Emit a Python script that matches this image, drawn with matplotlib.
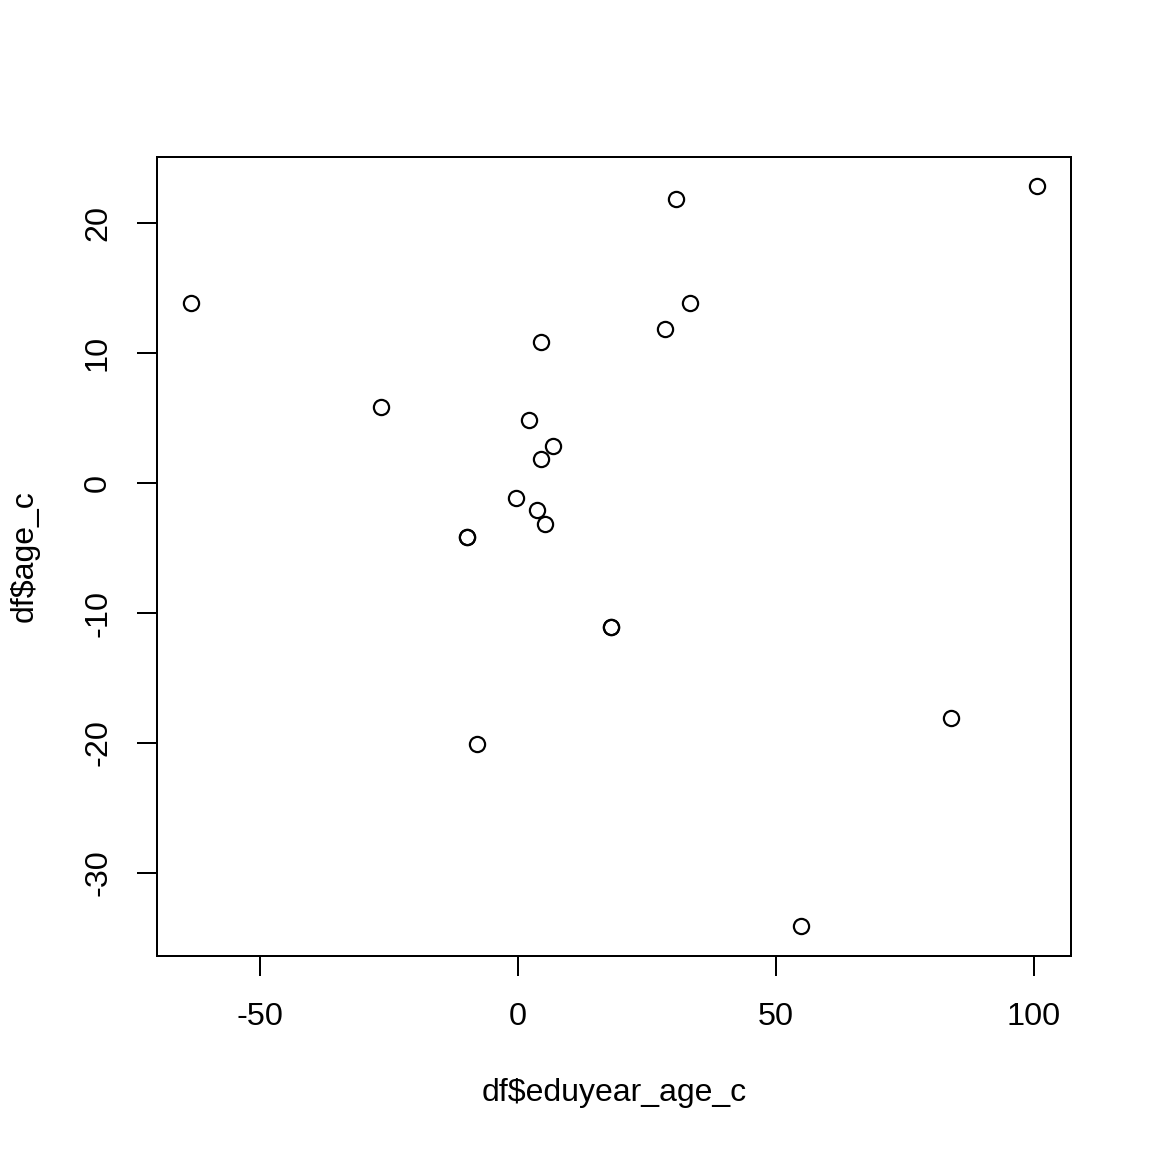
import matplotlib
matplotlib.use("Agg")
import matplotlib.pyplot as plt

eduyear_age_c = [-63.4, -26.6, -9.9, -9.9, -7.9, -0.4, 2.1, 3.7, 4.5, 4.5, 5.2, 6.8,
                 18.0, 18.0, 28.5, 30.6, 33.3, 54.8, 83.9, 100.6]
age_c = [13.85, 5.85, -4.15, -4.15, -20.1, -1.15, 4.85, -2.1, 10.85, 1.85, -3.15, 2.85,
         -11.1, -11.1, 11.85, 21.85, 13.85, -34.1, -18.1, 22.85]
x_ticks = [-50, 0, 50, 100]
y_ticks = [-30, -20, -10, 0, 10, 20]

W = H = 1152
plt.rcParams['font.family'] = ['Liberation Sans', 'DejaVu Sans']
fig = plt.figure(figsize=(8, 8), dpi=144)
L, R, T, B = 157, 1071, 157, 956
ax = fig.add_axes([L / W, 1 - B / H, (R - L) / W, (B - T) / H])
ax.plot(eduyear_age_c, age_c, linestyle='none', marker='o', markersize=7.6,
        markerfacecolor='none', markeredgecolor='black', markeredgewidth=1.1)
ax.set_xlim(-69.96, 107.17)
ax.set_ylim(-36.38, 25.08)
ax.set_xticks(x_ticks)
ax.set_yticks(y_ticks)
ax.set_xticklabels([str(v) for v in x_ticks])
ax.set_yticklabels([str(v) for v in y_ticks], rotation=90, va='center')
ax.tick_params(direction='out', length=10, width=1.0, labelsize=16.2, colors='black')
ax.tick_params(axis='x', pad=13)
ax.tick_params(axis='y', pad=12)
for s in ax.spines.values():
    s.set_linewidth(1.0)
fig.text(614 / W, 1 - 1093 / H, 'df$eduyear_age_c', ha='center', va='center', fontsize=16.0)
fig.text(25 / W, 1 - 556.5 / H, 'df$age_c', ha='center', va='center', rotation=90, fontsize=16.0)
fig.savefig('out.png', dpi=144, facecolor='white')
